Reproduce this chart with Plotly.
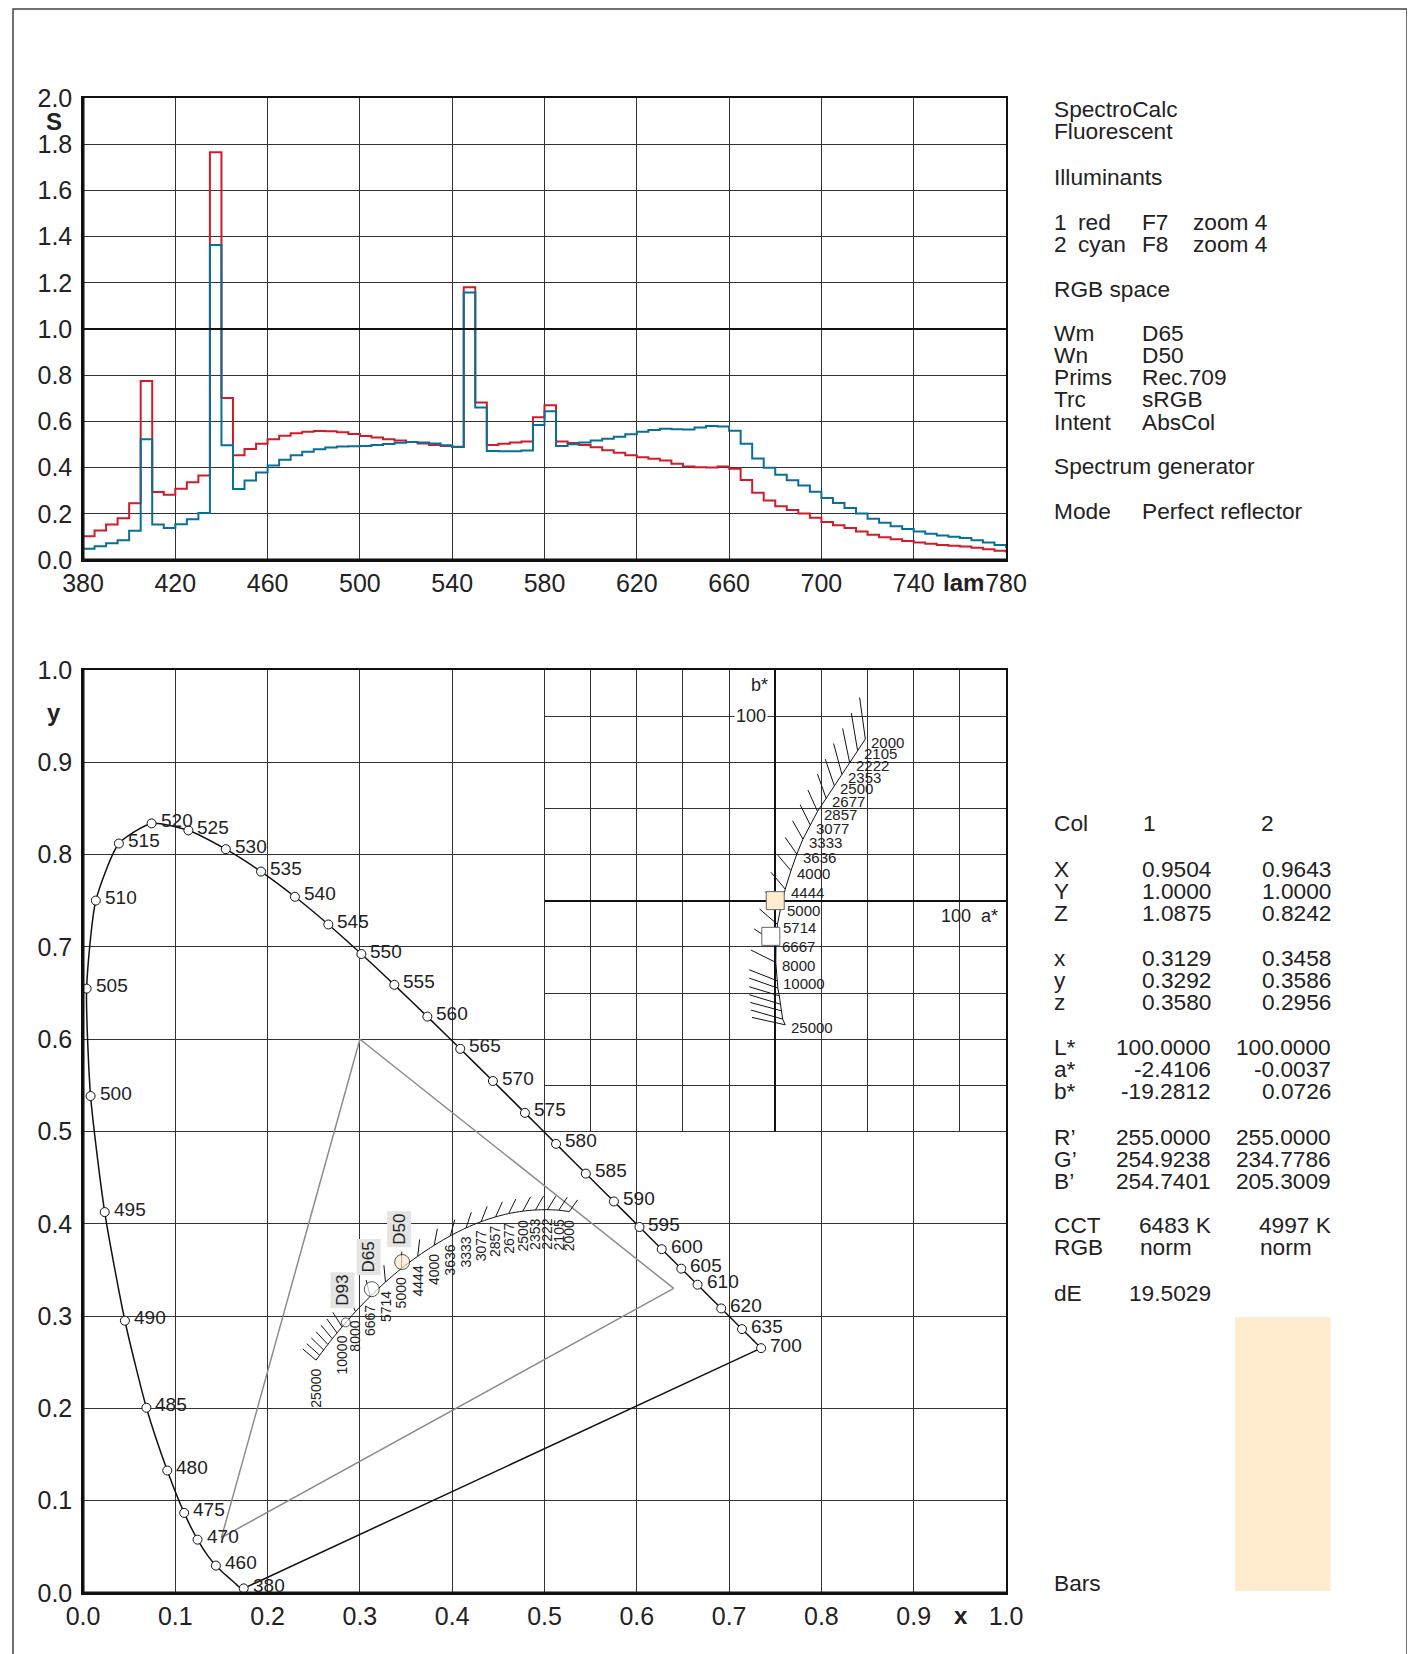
import plotly.graph_objects as go

W, H = 1415, 1654
PAGE_OFFSET = 8  # the page body margin shifts the figure by this many pixels
FONT = "Liberation Sans, Arial, sans-serif"
RED = "#d01c2a"
CYAN = "#0a6f98"
GRID = "#333333"
TXT = "#222222"

# ---------------- spectral data (CIE F7 / F8, displayed with zoom factor) ----------------
wl = list(range(380, 785, 5))
S_SCALE = 0.04
f7 = [2.56, 3.18, 3.84, 4.53, 6.15, 19.37, 7.37, 7.05, 7.71, 8.41, 9.15, 44.14, 17.52, 11.35, 12.00,
      12.58, 13.08, 13.45, 13.71, 13.88, 13.95, 13.93, 13.82, 13.64, 13.43, 13.25, 13.08, 12.93, 12.78,
      12.60, 12.44, 12.33, 12.26, 29.52, 17.05, 12.44, 12.58, 12.72, 12.83, 15.46, 16.75, 12.83, 12.67,
      12.45, 12.19, 11.89, 11.60, 11.35, 11.12, 10.95, 10.76, 10.42, 10.11, 10.04, 10.02, 10.11, 9.87,
      8.65, 7.27, 6.44, 5.83, 5.41, 5.04, 4.57, 4.12, 3.77, 3.46, 3.08, 2.73, 2.47, 2.25, 2.06, 1.90,
      1.75, 1.62, 1.54, 1.45, 1.32, 1.17, 0.99, 0.81]
f8 = [1.21, 1.50, 1.81, 2.13, 3.17, 13.08, 3.83, 3.45, 3.86, 4.42, 5.09, 34.10, 12.42, 7.68, 8.60,
      9.46, 10.24, 10.84, 11.33, 11.71, 11.98, 12.17, 12.28, 12.32, 12.35, 12.44, 12.55, 12.68, 12.77,
      12.72, 12.60, 12.43, 12.22, 28.96, 16.51, 11.79, 11.76, 11.77, 11.84, 14.61, 16.11, 12.34, 12.53,
      12.72, 12.92, 13.12, 13.34, 13.61, 13.87, 14.07, 14.20, 14.16, 14.13, 14.34, 14.50, 14.46, 14.00,
      12.58, 10.99, 9.98, 9.22, 8.62, 8.07, 7.39, 6.71, 6.16, 5.63, 5.03, 4.46, 4.02, 3.66, 3.36, 3.09,
      2.85, 2.65, 2.51, 2.37, 2.15, 1.89, 1.61, 1.32]

spec_ticks = [380, 420, 460, 500, 540, 580, 620, 660, 700, 740, 780]
s_ticks = [0.0, 0.2, 0.4, 0.6, 0.8, 1.0, 1.2, 1.4, 1.6, 1.8, 2.0]
xy_ticks = [0.0, 0.1, 0.2, 0.3, 0.4, 0.5, 0.6, 0.7, 0.8, 0.9, 1.0]
ab_ticks = [-125, -100, -75, -50, -25, 0, 25, 50, 75, 100, 125]

# ---------------- CIE 1931 spectral locus ----------------
loc_wl = list(range(380, 705, 5))
loc_x = [0.1741, 0.1740, 0.1738, 0.1736, 0.1733, 0.1730, 0.1726, 0.1721, 0.1714, 0.1703, 0.1689, 0.1669,
         0.1644, 0.1611, 0.1566, 0.1510, 0.1440, 0.1355, 0.1241, 0.1096, 0.0913, 0.0687, 0.0454, 0.0235,
         0.0082, 0.0039, 0.0139, 0.0389, 0.0743, 0.1142, 0.1547, 0.1929, 0.2296, 0.2658, 0.3016, 0.3373,
         0.3731, 0.4087, 0.4441, 0.4788, 0.5125, 0.5448, 0.5752, 0.6029, 0.6270, 0.6482, 0.6658, 0.6801,
         0.6915, 0.7006, 0.7079, 0.7140, 0.7190, 0.7230, 0.7260, 0.7283, 0.7300, 0.7311, 0.7320, 0.7327,
         0.7334, 0.7340, 0.7344, 0.7346, 0.7347]
loc_y = [0.0050, 0.0050, 0.0049, 0.0049, 0.0048, 0.0048, 0.0048, 0.0048, 0.0051, 0.0058, 0.0069, 0.0086,
         0.0109, 0.0138, 0.0177, 0.0227, 0.0297, 0.0399, 0.0578, 0.0868, 0.1327, 0.2007, 0.2950, 0.4127,
         0.5384, 0.6548, 0.7502, 0.8120, 0.8338, 0.8262, 0.8059, 0.7816, 0.7543, 0.7243, 0.6923, 0.6589,
         0.6245, 0.5896, 0.5547, 0.5202, 0.4866, 0.4544, 0.4242, 0.3965, 0.3725, 0.3514, 0.3340, 0.3197,
         0.3083, 0.2993, 0.2920, 0.2859, 0.2809, 0.2770, 0.2740, 0.2717, 0.2700, 0.2689, 0.2680, 0.2673,
         0.2666, 0.2660, 0.2656, 0.2654, 0.2653]
mark_wl = [380, 460, 470, 475, 480, 485, 490, 495, 500, 505, 510, 515, 520, 525, 530, 535, 540, 545,
           550, 555, 560, 565, 570, 575, 580, 585, 590, 595, 600, 605, 610, 620, 635, 700]

# sRGB / Rec.709 primaries
prim_x = [0.64, 0.30, 0.15, 0.64]
prim_y = [0.33, 0.60, 0.06, 0.33]

# ---------------- Planckian locus ----------------
planck_T = [2000, 2105, 2222, 2353, 2500, 2677, 2857, 3077, 3333, 3636, 4000, 4444, 5000, 5714, 6667,
            8000, 10000, 11111, 12500, 14286, 16667, 20000, 25000]
planck_x = [0.5269, 0.5154, 0.5032, 0.4902, 0.4765, 0.4612, 0.4470, 0.4313, 0.4150, 0.3980, 0.3805,
            0.3627, 0.3450, 0.3277, 0.3110, 0.2952, 0.2807, 0.2753, 0.2701, 0.2653, 0.2607, 0.2564, 0.2525]
planck_y = [0.4133, 0.4147, 0.4153, 0.4150, 0.4137, 0.4111, 0.4075, 0.4023, 0.3955, 0.3870, 0.3767,
            0.3649, 0.3516, 0.3369, 0.3212, 0.3048, 0.2883, 0.2818, 0.2755, 0.2693, 0.2633, 0.2576, 0.2523]
iso_x_end = [0.5359, 0.5246, 0.5122, 0.4989, 0.4848, 0.4690, 0.4543, 0.4379, 0.4207, 0.4027, 0.3839,
             0.3647, 0.3453, 0.3260, 0.3068, 0.2880, 0.2707, 0.2642, 0.2581, 0.2525, 0.2473, 0.2425, 0.2382]
iso_y_end = [0.4260, 0.4287, 0.4299, 0.4300, 0.4291, 0.4269, 0.4237, 0.4189, 0.4125, 0.4044, 0.3945,
             0.3830, 0.3698, 0.3551, 0.3391, 0.3218, 0.3041, 0.2969, 0.2899, 0.2830, 0.2764, 0.2701, 0.2643]
label_T = [2000, 2105, 2222, 2353, 2500, 2677, 2857, 3077, 3333, 3636, 4000, 4444, 5000, 5714, 6667,
           8000, 10000, 25000]

# Planckian locus in CIELab a*b* (inset)
planck_a = [48.8, 44.6, 40.3, 36.1, 32.0, 27.6, 22.9, 19.0, 15.0, 11.7, 8.5, 5.4, 3.0, 1.2, 0.4, 0.3,
            0.9, 1.4, 2.2, 2.7, 3.3, 4.0, 5.4]
planck_b = [87.6, 81.3, 74.9, 68.6, 62.3, 55.4, 48.4, 41.0, 33.4, 25.3, 16.3, 6.3, -3.6, -12.8, -23.0,
            -33.4, -43.3, -47.3, -51.5, -56.0, -59.6, -64.1, -67.2]
iso_a_end = [45.7, 41.2, 36.5, 31.6, 27.1, 22.9, 17.7, 13.5, 9.4, 5.4, 1.4, -2.3, -5.5, -8.5, -11.4,
             -13.2, -14.1, -14.1, -14.1, -14.1, -13.5, -13.2, -12.6]
iso_b_end = [110.1, 101.7, 93.3, 85.2, 76.7, 68.6, 60.0, 52.0, 43.3, 34.3, 24.7, 15.4, 5.0, -4.5, -15.3,
             -26.7, -37.4, -41.9, -46.6, -50.9, -55.1, -59.2, -63.2]

# ---------------- colours / results ----------------
white_names = ["D93", "D65", "D50"]
white_x = [0.2848, 0.3129, 0.3458]
white_y = [0.2932, 0.3292, 0.3586]

col_names = ["1", "2"]
col_X = ["0.9504", "0.9643"]
col_Y = ["1.0000", "1.0000"]
col_Z = ["1.0875", "0.8242"]
col_xs = ["0.3129", "0.3458"]
col_ys = ["0.3292", "0.3586"]
col_zs = ["0.3580", "0.2956"]
col_L = ["100.0000", "100.0000"]
col_a = [-2.4106, -0.0037]
col_b = [-19.2812, 0.0726]
col_R = [255.0000, 255.0000]
col_G = [254.9238, 234.7786]
col_B = [254.7401, 205.3009]
col_cct = ["6483 K", "4997 K"]
col_rgb = ["norm", "norm"]
dE = "19.5029"
bar_vals = [1.0, 1.0]

col_fill = ["rgb(%d,%d,%d)" % (round(r), round(g), round(b)) for r, g, b in zip(col_R, col_G, col_B)]


def px(xp):
    return (xp - PAGE_OFFSET) / W


def py(yp):
    return 1 - (yp - PAGE_OFFSET) / H


fig = go.Figure()

# ---- spectra ----
fig.add_trace(go.Scatter(x=wl, y=[v * S_SCALE for v in f7], mode="lines",
                         line=dict(color=RED, width=2, shape="hv"), xaxis="x", yaxis="y"))
fig.add_trace(go.Scatter(x=wl, y=[v * S_SCALE for v in f8], mode="lines",
                         line=dict(color=CYAN, width=2, shape="hv"), xaxis="x", yaxis="y"))

# ---- xy diagram ----
fig.add_trace(go.Scatter(x=prim_x, y=prim_y, mode="lines", line=dict(color="#8c8c8c", width=1.5),
                         xaxis="x2", yaxis="y2"))
fig.add_trace(go.Scatter(x=[loc_x[0], loc_x[-1]], y=[loc_y[0], loc_y[-1]], mode="lines",
                         line=dict(color="#111", width=1.5), xaxis="x2", yaxis="y2"))
fig.add_trace(go.Scatter(x=loc_x, y=loc_y, mode="lines", line=dict(color="#111", width=1.5, shape="spline",
                                                                   smoothing=0.6),
                         xaxis="x2", yaxis="y2"))
mx = [loc_x[loc_wl.index(w)] for w in mark_wl]
my = [loc_y[loc_wl.index(w)] for w in mark_wl]
fig.add_trace(go.Scatter(x=mx, y=my, mode="markers",
                         marker=dict(size=9, color="white", line=dict(color="#111", width=1)),
                         xaxis="x2", yaxis="y2"))

# planck in xy
hx, hy = [], []
for a, b, c, d in zip(planck_x, planck_y, iso_x_end, iso_y_end):
    hx += [a, c, None]
    hy += [b, d, None]
fig.add_trace(go.Scatter(x=hx, y=hy, mode="lines", line=dict(color="#111", width=1), xaxis="x2", yaxis="y2"))
fig.add_trace(go.Scatter(x=planck_x, y=planck_y, mode="lines",
                         line=dict(color="#111", width=1, shape="spline", smoothing=0.8),
                         xaxis="x2", yaxis="y2"))
fig.add_trace(go.Scatter(x=white_x, y=white_y, mode="markers",
                         marker=dict(size=[9, 15, 15], color=["white", col_fill[0], col_fill[1]],
                                     line=dict(color="#111", width=1)),
                         xaxis="x2", yaxis="y2"))

# ---- a*b* inset ----
ha, hb = [], []
for a, b, c, d in zip(planck_a, planck_b, iso_a_end, iso_b_end):
    ha += [a, c, None]
    hb += [b, d, None]
fig.add_trace(go.Scatter(x=ha, y=hb, mode="lines", line=dict(color="#111", width=1), xaxis="x3", yaxis="y3"))
fig.add_trace(go.Scatter(x=planck_a, y=planck_b, mode="lines", line=dict(color="#111", width=1),
                         xaxis="x3", yaxis="y3"))
fig.add_trace(go.Scatter(x=col_a, y=col_b, mode="markers",
                         marker=dict(symbol="square", size=18, color=col_fill, line=dict(color="#666", width=1)),
                         xaxis="x3", yaxis="y3"))

# ---- colour bars ----
fig.add_trace(go.Bar(x=[1, 2], y=bar_vals, marker=dict(color=col_fill, line=dict(width=0)), width=1,
                     xaxis="x4", yaxis="y4"))

# ---------------- axes ----------------
common = dict(showgrid=True, gridcolor=GRID, gridwidth=1, zeroline=False, showline=True, linecolor="#111",
              linewidth=1.5, mirror=True, ticks="", tickfont=dict(size=25, color=TXT, family=FONT),
              fixedrange=True, automargin=False)
XD = [px(83), px(1006)]
fig.update_layout(
    width=W, height=H, margin=dict(l=0, r=0, t=0, b=0, autoexpand=False),
    paper_bgcolor="white", plot_bgcolor="rgba(0,0,0,0)", showlegend=False,
    font=dict(family=FONT, color=TXT),
    xaxis=dict(common, domain=XD, range=[380, 780], tickvals=spec_ticks,
               ticktext=[str(v) for v in spec_ticks], anchor="y", ticklabelstandoff=0),
    yaxis=dict(common, domain=[py(560), py(98)], range=[0, 2], tickvals=s_ticks,
               ticktext=["%.1f" % v for v in s_ticks], anchor="x", ticklabelstandoff=4),
    xaxis2=dict(common, domain=XD, range=[0, 1], tickvals=xy_ticks,
                ticktext=["%.1f" % v for v in xy_ticks], anchor="y2", ticklabelstandoff=0),
    yaxis2=dict(common, domain=[py(1593), py(670)], range=[0, 1], tickvals=xy_ticks,
                ticktext=["%.1f" % v for v in xy_ticks], anchor="x2", ticklabelstandoff=4),
    xaxis3=dict(domain=[px(544.5), px(1006)], range=[-125, 125], tickvals=ab_ticks, showticklabels=False,
                showgrid=True, gridcolor=GRID, gridwidth=1, showline=False, zeroline=True,
                zerolinecolor="#111", zerolinewidth=2, anchor="y3", fixedrange=True, automargin=False),
    yaxis3=dict(domain=[py(1131.5), py(670)], range=[-125, 125], tickvals=ab_ticks, showticklabels=False,
                showgrid=True, gridcolor=GRID, gridwidth=1, showline=False, zeroline=True,
                zerolinecolor="#111", zerolinewidth=2, anchor="x3", fixedrange=True, automargin=False),
    xaxis4=dict(domain=[px(1138.6), px(1330.6)], range=[0.5, 2.5], visible=False, anchor="y4",
                fixedrange=True, automargin=False),
    yaxis4=dict(domain=[py(1591), py(1317)], range=[0, 1], visible=False, anchor="x4",
                fixedrange=True, automargin=False),
    bargap=0,
)

shapes = []
for xr, yr in (("x", "y"), ("x2", "y2")):
    shapes.append(dict(type="line", xref=xr + " domain", yref=yr + " domain", x0=0, x1=0, y0=0, y1=1,
                       line=dict(color="#111", width=3)))
    shapes.append(dict(type="line", xref=xr + " domain", yref=yr + " domain", x0=0, x1=1, y0=0, y1=0,
                       line=dict(color="#111", width=3)))
shapes.append(dict(type="line", xref="x domain", yref="y", x0=0, x1=1, y0=1.0, y1=1.0,
                   line=dict(color="#111", width=2)))
shapes.append(dict(type="rect", xref="paper", yref="paper", x0=px(13), x1=px(1407), y0=-0.02,
                   y1=1 - 1.0 / H, line=dict(color="#444", width=1.5)))
fig.update_layout(shapes=shapes)

ann = []


def A(x, y, text, xref="paper", yref="paper", xanchor="left", yanchor="middle", size=22.7, **kw):
    d = dict(x=x, y=y, text=text, xref=xref, yref=yref, xanchor=xanchor, yanchor=yanchor,
             showarrow=False, font=dict(size=size, color=TXT, family=FONT))
    d.update(kw)
    ann.append(d)


# axis names
A(px(54), py(121), "<b>S</b>", xanchor="center", size=24)
A(px(963), py(582), "<b>lam</b>", xanchor="center", size=24)
A(px(54), py(712), "<b>y</b>", xanchor="center", size=24)
A(px(961), py(1615), "<b>x</b>", xanchor="center", size=24)

# spectral locus labels
for w, x, y in zip(mark_wl, mx, my):
    A(x, y, str(w), xref="x2", yref="y2", xshift=7, yshift=3, size=19)

# planck labels xy
for T in label_T:
    i = planck_T.index(T)
    A(planck_x[i], planck_y[i], str(T), xref="x2", yref="y2", xanchor="center", yanchor="top",
      yshift=-7, size=14, textangle=-90)
# white point labels
for n, x, y in zip(white_names, white_x, white_y):
    A(x, y, n, xref="x2", yref="y2", xanchor="center", yanchor="bottom", yshift=14, xshift=-3, size=17,
      textangle=-90, bgcolor="#e4e4e4", borderpad=2)

# planck labels ab
for T in label_T:
    i = planck_T.index(T)
    A(planck_a[i], planck_b[i], str(T), xref="x3", yref="y3", xshift=4, yshift=-3, size=15)
A(-3, 117, "b*", xref="x3", yref="y3", xanchor="right", size=18)
A(-4, 100, "100", xref="x3", yref="y3", xanchor="right", size=18, bgcolor="white", borderpad=1)
A(122, -8, "100  a*", xref="x3", yref="y3", xanchor="right", size=18)

# right panel, top
L0, L1, L2, L3 = px(1052), px(1076), px(1140), px(1191)
A(L0, py(109), "SpectroCalc")
A(L0, py(131.5), "Fluorescent")
A(L0, py(176.5), "Illuminants")
A(L0, py(221.5), "1")
A(L1, py(221.5), "red")
A(L2, py(221.5), "F7")
A(L3, py(221.5), "zoom 4")
A(L0, py(244), "2")
A(L1, py(244), "cyan")
A(L2, py(244), "F8")
A(L3, py(244), "zoom 4")
A(L0, py(288.5), "RGB space")
for k, (a, b) in enumerate([("Wm", "D65"), ("Wn", "D50"), ("Prims", "Rec.709"), ("Trc", "sRGB"),
                            ("Intent", "AbsCol")]):
    yy = py(332.5 + 22.3 * k)
    A(L0, yy, a)
    A(L2, yy, b)
A(L0, py(466.5), "Spectrum generator")
A(L0, py(511.5), "Mode")
A(L2, py(511.5), "Perfect reflector")

# right panel, bottom
R1, R2 = px(1213), px(1333)
A(L0, py(823), "Col")
A(px(1141), py(823), col_names[0])
A(px(1259), py(823), col_names[1])
rows = [
    (868.5, "X", col_X), (890.8, "Y", col_Y), (913, "Z", col_Z),
    (957.5, "x", col_xs), (979.8, "y", col_ys), (1002, "z", col_zs),
    (1046.5, "L*", col_L), (1068.8, "a*", ["%.4f" % v for v in col_a]), (1091, "b*", ["%.4f" % v for v in col_b]),
    (1136.5, "R’", ["%.4f" % v for v in col_R]), (1158.8, "G’", ["%.4f" % v for v in col_G]),
    (1181, "B’", ["%.4f" % v for v in col_B]),
    (1225, "CCT", col_cct),
]
for yv, lab, vals in rows:
    A(L0, py(yv), lab)
    A(R1, py(yv), vals[0], xanchor="right")
    A(R2, py(yv), vals[1], xanchor="right")
A(L0, py(1247.3), "RGB")
A(px(1138), py(1247.3), col_rgb[0])
A(px(1258), py(1247.3), col_rgb[1])
A(L0, py(1292.5), "dE")
A(R1, py(1292.5), dE, xanchor="right")
A(L0, py(1583), "Bars")

fig.update_layout(annotations=ann)
fig.write_html("out.html")
